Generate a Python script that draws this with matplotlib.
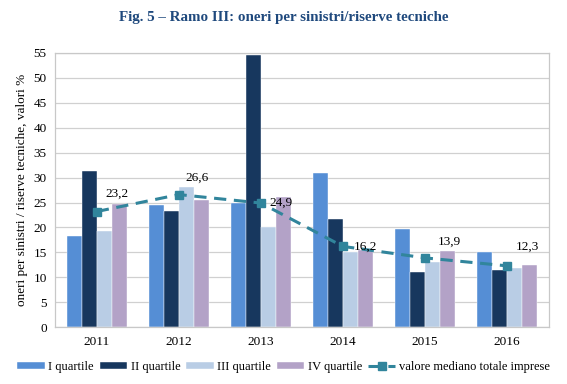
import numpy as np
import matplotlib.pyplot as plt

plt.rcParams['font.family'] = ['Liberation Serif', 'DejaVu Serif']

years = ['2011', '2012', '2013', '2014', '2015', '2016']
q1 = [18.3, 24.5, 25.0, 31.0, 19.6, 15.0]
q2 = [31.4, 23.4, 54.6, 21.7, 11.0, 11.4]
q3 = [19.3, 28.1, 20.1, 15.1, 13.0, 11.9]
q4 = [24.7, 25.5, 26.1, 15.4, 15.2, 12.5]
mediano = [23.2, 26.6, 24.9, 16.2, 13.9, 12.3]
mediano_lbl = ['23,2', '26,6', '24,9', '16,2', '13,9', '12,3']

series = [(q1, 'I quartile', '#558ED5'),
          (q2, 'II quartile', '#17375E'),
          (q3, 'III quartile', '#B9CDE5'),
          (q4, 'IV quartile', '#B3A2C7')]

fig = plt.figure(figsize=(5.67, 3.84), dpi=100)
ax = fig.add_axes([0.097, 0.148, 0.871, 0.714])

x = np.arange(len(years))
w = 0.182
handles = []
for i, (vals, name, col) in enumerate(series):
    b = ax.bar(x + (i - 1.5) * w, vals, w, color=col, label=name, zorder=2,
               edgecolor='white', linewidth=0.3)
    handles.append(b)

ln, = ax.plot(x, mediano, color='#31859C', linestyle=(0, (4, 2.5)), linewidth=2.2,
              marker='s', markersize=6, label='valore mediano totale imprese', zorder=3)
handles.append(ln)

offsets = [(0.25, 3.6), (0.22, 3.3), (0.24, 0.0), (0.28, 0.0), (0.3, 3.2), (0.25, 3.8)]
for xi, v, t, (dx, dy) in zip(x, mediano, mediano_lbl, offsets):
    ax.text(xi + dx, v + dy, t, ha='center', va='center', fontsize=9.5, zorder=4)

ax.set_xlim(-0.51, 5.51)
ax.set_ylim(0, 55)
ax.set_yticks(range(0, 56, 5))
ax.set_xticks(x)
ax.set_xticklabels(years)
ax.tick_params(axis='both', length=0, labelsize=9.5, pad=6)
ax.grid(axis='y', color='#D0D0D0', linewidth=0.9, zorder=0)
for s in ax.spines.values():
    s.set_color('#C8C8C8')
    s.set_linewidth(0.9)
ax.set_ylabel('oneri per sinistri / riserve tecniche, valori %', fontsize=9.5)

fig.text(0.5, 0.955, 'Fig. 5 – Ramo III: oneri per sinistri/riserve tecniche',
         ha='center', va='center', fontsize=10.8, fontweight='bold', color='#1F497D')

fig.legend(handles=handles, loc='lower center', bbox_to_anchor=(0.5, 0.0), ncol=5,
           frameon=False, fontsize=9, handlelength=2.2, handleheight=0.5,
           columnspacing=0.45, handletextpad=0.3)

fig.savefig('out.png', dpi=100)
